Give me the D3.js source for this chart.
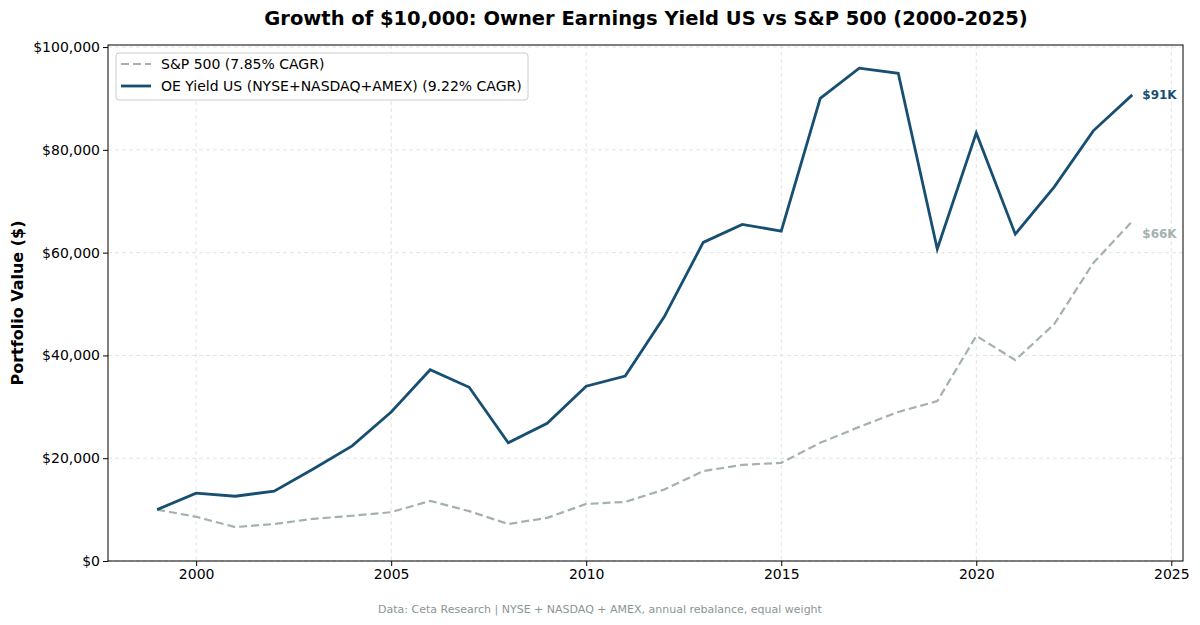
<!DOCTYPE html><html><head><script src="https://d3js.org/d3.v7.min.js"></script>
<style>body{margin:0;background:#fff}text{font-family:"DejaVu Sans",sans-serif}</style></head><body>
<svg id="c" width="1200" height="625"></svg>
<script>
const years=d3.range(1999,2025);
const oe=[10000,13200,12600,13600,17900,22400,29000,37200,33800,23000,26800,34000,36000,47500,62000,65500,64200,90000,95900,94900,60700,83300,63600,72800,83700,90700];
const sp=[10000,8600,6600,7200,8200,8800,9500,11700,9700,7200,8400,11100,11500,13900,17500,18700,19100,23000,26100,29000,31100,43800,39100,46100,58000,66100];
const xTicks=[2000,2005,2010,2015,2020,2025];
const yTicks=[0,20000,40000,60000,80000,100000];
const svg=d3.select("#c");
const L=108,R=1183,T=45,B=561;
const x=d3.scaleLinear().domain([1997.74,2025.3]).range([L,R]);
const y=d3.scaleLinear().domain([0,100400]).range([B,T]);
const g=svg.append("g");
g.selectAll(".gx").data(xTicks).join("line").attr("x1",d=>x(d)).attr("x2",d=>x(d)).attr("y1",T).attr("y2",B).attr("stroke","#ddd").attr("stroke-dasharray","4,3").attr("stroke-width",0.8);
g.selectAll(".gy").data(yTicks).join("line").attr("x1",L).attr("x2",R).attr("y1",d=>y(d)).attr("y2",d=>y(d)).attr("stroke","#ddd").attr("stroke-dasharray","4,3").attr("stroke-width",0.8);
const xa=svg.append("g").attr("transform",`translate(0,${B})`).call(d3.axisBottom(x).tickValues(xTicks).tickFormat(d3.format("d")).tickSize(5).tickSizeOuter(0));
const ya=svg.append("g").attr("transform",`translate(${L},0)`).call(d3.axisLeft(y).tickValues(yTicks).tickFormat(d=>"$"+d3.format(",")(d)).tickSize(5).tickSizeOuter(0));
[xa,ya].forEach(a=>{a.selectAll("text").attr("font-size",14).attr("fill","#000");a.select(".domain").remove();});
svg.append("rect").attr("x",L).attr("y",T).attr("width",R-L).attr("height",B-T).attr("fill","none").attr("stroke","#000").attr("stroke-width",1);
const line=d3.line().x((d,i)=>x(years[i])).y(d=>y(d));
svg.append("path").attr("d",line(sp)).attr("fill","none").attr("stroke","#a5b1b0").attr("stroke-width",2.2).attr("stroke-dasharray","8,4");
svg.append("path").attr("d",line(oe)).attr("fill","none").attr("stroke","#174f72").attr("stroke-width",2.8);
svg.append("text").attr("x",x(2024)+10).attr("y",y(oe[25])+4).attr("font-size",12).attr("font-weight","bold").attr("fill","#174f72").text("$91K");
svg.append("text").attr("x",x(2024)+10).attr("y",y(sp[25])+17).attr("font-size",12).attr("font-weight","bold").attr("fill","#a5b1b0").text("$66K");
svg.append("text").attr("x",646).attr("y",25).attr("text-anchor","middle").attr("font-size",19.5).attr("font-weight","bold").text("Growth of $10,000: Owner Earnings Yield US vs S&P 500 (2000-2025)");
svg.append("text").attr("transform","translate(23,303) rotate(-90)").attr("text-anchor","middle").attr("font-size",16).attr("font-weight","bold").text("Portfolio Value ($)");
svg.append("text").attr("x",600).attr("y",613).attr("text-anchor","middle").attr("font-size",11).attr("fill","#8a9696").text("Data: Ceta Research | NYSE + NASDAQ + AMEX, annual rebalance, equal weight");
const lg=svg.append("g");
lg.append("rect").attr("x",116).attr("y",53).attr("width",412).attr("height",47).attr("rx",3).attr("fill","#fff").attr("stroke","#ccc");
lg.append("line").attr("x1",121).attr("x2",151).attr("y1",64).attr("y2",64).attr("stroke","#a5b1b0").attr("stroke-width",2.2).attr("stroke-dasharray","8,4");
lg.append("line").attr("x1",121).attr("x2",151).attr("y1",86).attr("y2",86).attr("stroke","#174f72").attr("stroke-width",2.8);
lg.append("text").attr("x",161).attr("y",69).attr("font-size",14).text("S&P 500 (7.85% CAGR)");
lg.append("text").attr("x",161).attr("y",91).attr("font-size",14).text("OE Yield US (NYSE+NASDAQ+AMEX) (9.22% CAGR)");
</script></body></html>
